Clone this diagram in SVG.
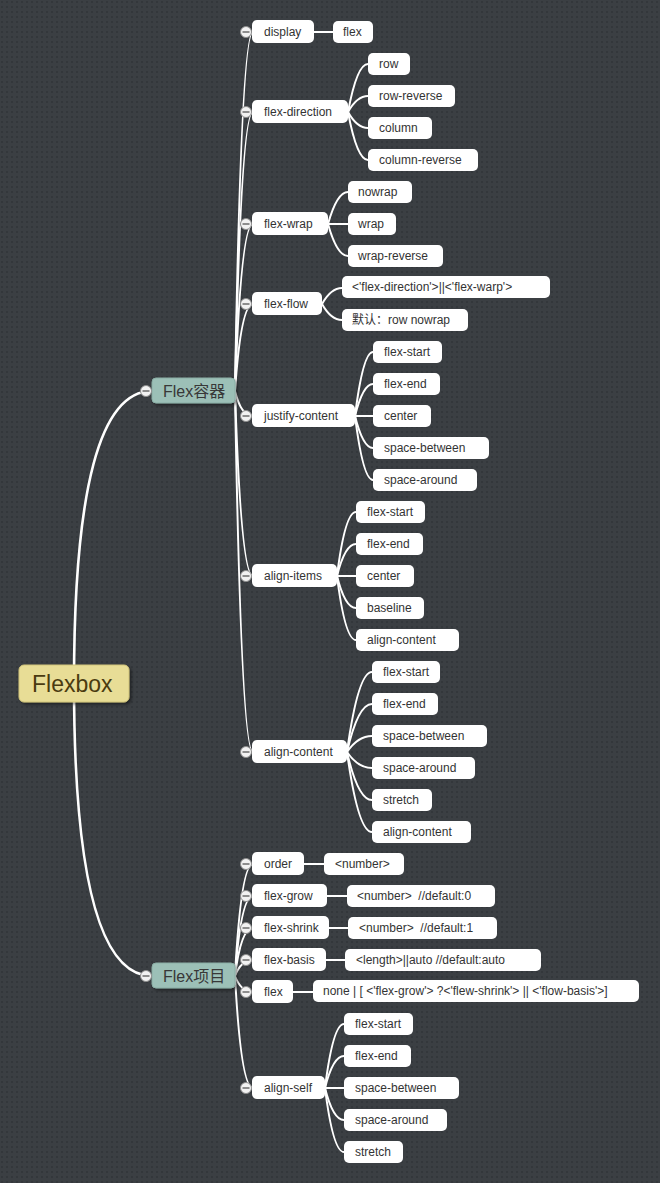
<svg xmlns="http://www.w3.org/2000/svg" width="660" height="1183" viewBox="0 0 660 1183">
  <defs>
    <pattern id="dots" width="5" height="5" patternUnits="userSpaceOnUse">
      <rect width="5" height="5" fill="#3b3f43"/>
      <rect x="1" y="1" width="2" height="2" fill="#33373b"/>
    </pattern>
    <filter id="shadow" x="-20%" y="-30%" width="150%" height="180%">
      <feDropShadow dx="2" dy="2" stdDeviation="1.5" flood-color="#000" flood-opacity="0.45"/>
    </filter>
    <g id="fold">
      <circle r="5.5" fill="#f2f2f2" stroke="#8c8c8c" stroke-width="1"/>
      <line x1="-3.5" y1="0" x2="3.5" y2="0" stroke="#555" stroke-width="1.3"/>
    </g>
  </defs>
  <style>
    .bg { fill: url(#dots); }
    .link { fill: none; stroke: #ffffff; stroke-width: 2; stroke-linecap: round; }
    .link-main { fill: none; stroke: #ffffff; stroke-width: 2.6; stroke-linecap: round; }
    .box { fill: #ffffff; }
    .lbl { font-family: "Liberation Sans", Arial, sans-serif; font-size: 12px; fill: #333333; }
    .root-box { fill: #e8dd96; stroke: #d2c57a; stroke-width: 1; }
    .root-lbl { font-family: "Liberation Sans", Arial, sans-serif; font-size: 23px; fill: #4a3b10; }
    .sub-box { fill: #9cc0b7; stroke: #8aaea5; stroke-width: 1; }
    .sub-lbl { font-family: "Liberation Sans", "Noto Sans CJK SC", Arial, sans-serif; font-size: 16px; fill: #383838; }
    .cjk { font-family: "Liberation Sans", "Noto Sans CJK SC", sans-serif; }
  </style>

  <rect class="bg" x="0" y="0" width="660" height="1183"/>

  <!-- connectors -->
  <g id="connectors">
    <!-- root to main branches -->
    <path class="link-main" d="M74,683 Q74,391 152,391"/>
    <path class="link-main" d="M74,683 Q74,976 152,976"/>

    <!-- Flex容器 to its properties -->
    <path class="link" d="M235,391 Q241,32 253,32"/>
    <path class="link" d="M235,391 Q241,112 253,112"/>
    <path class="link" d="M235,391 Q241,224 253,224"/>
    <path class="link" d="M235,391 Q241,304 253,304"/>
    <path class="link" d="M235,391 Q241,416 253,416"/>
    <path class="link" d="M235,391 Q241,576 253,576"/>
    <path class="link" d="M235,391 Q241,752 253,752"/>

    <!-- Flex项目 to its properties -->
    <path class="link" d="M235,976 Q241,864 253,864"/>
    <path class="link" d="M235,976 Q241,896 253,896"/>
    <path class="link" d="M235,976 Q241,928 253,928"/>
    <path class="link" d="M235,976 Q241,960 253,960"/>
    <path class="link" d="M235,976 Q241,992 253,992"/>
    <path class="link" d="M235,976 Q241,1088 253,1088"/>

    <!-- display -->
    <path class="link" d="M314,32 L333,32"/>
    <!-- flex-direction -->
    <path class="link" d="M348,112 Q357,64 368,64"/>
    <path class="link" d="M348,112 Q357,96 368,96"/>
    <path class="link" d="M348,112 Q357,128 368,128"/>
    <path class="link" d="M348,112 Q357,160 368,160"/>
    <!-- flex-wrap -->
    <path class="link" d="M328,224 Q337,192 348,192"/>
    <path class="link" d="M328,224 L348,224"/>
    <path class="link" d="M328,224 Q337,256 348,256"/>
    <!-- flex-flow -->
    <path class="link" d="M322,304 Q331,288 342,288"/>
    <path class="link" d="M322,304 Q331,320 342,320"/>
    <!-- justify-content -->
    <path class="link" d="M355,416 Q363,352 373,352"/>
    <path class="link" d="M355,416 Q363,384 373,384"/>
    <path class="link" d="M355,416 L373,416"/>
    <path class="link" d="M355,416 Q363,448 373,448"/>
    <path class="link" d="M355,416 Q363,480 373,480"/>
    <!-- align-items -->
    <path class="link" d="M337,576 Q345,512 356,512"/>
    <path class="link" d="M337,576 Q345,544 356,544"/>
    <path class="link" d="M337,576 L356,576"/>
    <path class="link" d="M337,576 Q345,608 356,608"/>
    <path class="link" d="M337,576 Q345,640 356,640"/>
    <!-- align-content -->
    <path class="link" d="M347,752 Q358,672 372,672"/>
    <path class="link" d="M347,752 Q358,704 372,704"/>
    <path class="link" d="M347,752 Q358,736 372,736"/>
    <path class="link" d="M347,752 Q358,768 372,768"/>
    <path class="link" d="M347,752 Q358,800 372,800"/>
    <path class="link" d="M347,752 Q358,832 372,832"/>
    <!-- order / grow / shrink / basis / flex -->
    <path class="link" d="M304,864 L324,864"/>
    <path class="link" d="M327,896 L347,896"/>
    <path class="link" d="M329,928 L348,928"/>
    <path class="link" d="M326,960 L345,960"/>
    <path class="link" d="M293,992 L313,992"/>
    <!-- align-self -->
    <path class="link" d="M325,1088 Q333,1024 344,1024"/>
    <path class="link" d="M325,1088 Q333,1056 344,1056"/>
    <path class="link" d="M325,1088 L344,1088"/>
    <path class="link" d="M325,1088 Q333,1120 344,1120"/>
    <path class="link" d="M325,1088 Q333,1152 344,1152"/>
  </g>

  <!-- central topic -->
  <g id="node-flexbox">
    <rect class="root-box" x="19" y="665" width="110" height="37" rx="5" filter="url(#shadow)"/>
    <text class="root-lbl" x="32" y="692">Flexbox</text>
  </g>

  <!-- main branches -->
  <g id="node-flex-container">
    <rect class="sub-box" x="152" y="378" width="83" height="25" rx="4" filter="url(#shadow)"/>
    <text class="sub-lbl" x="163" y="397">Flex容器</text>
    <use href="#fold" x="146" y="391"/>
  </g>
  <g id="node-flex-item">
    <rect class="sub-box" x="152" y="963" width="83" height="25" rx="4" filter="url(#shadow)"/>
    <text class="sub-lbl" x="163" y="982">Flex项目</text>
    <use href="#fold" x="146" y="976"/>
  </g>

  <!-- container properties -->
  <g id="node-display">
    <rect class="box" x="252" y="20" width="62" height="23" rx="5"/>
    <text class="lbl" x="264" y="36">display</text>
    <use href="#fold" x="246" y="32"/>
  </g>
  <g id="node-display-flex">
    <rect class="box" x="333" y="21" width="40" height="22" rx="5"/>
    <text class="lbl" x="343" y="36">flex</text>
  </g>

  <g id="node-flex-direction">
    <rect class="box" x="252" y="100" width="96" height="23" rx="5"/>
    <text class="lbl" x="264" y="116">flex-direction</text>
    <use href="#fold" x="246" y="112"/>
  </g>
  <g id="node-fd-row">
    <rect class="box" x="368" y="53" width="42" height="22" rx="5"/>
    <text class="lbl" x="379" y="68">row</text>
  </g>
  <g id="node-fd-row-reverse">
    <rect class="box" x="368" y="85" width="87" height="22" rx="5"/>
    <text class="lbl" x="379" y="100">row-reverse</text>
  </g>
  <g id="node-fd-column">
    <rect class="box" x="368" y="117" width="64" height="22" rx="5"/>
    <text class="lbl" x="379" y="132">column</text>
  </g>
  <g id="node-fd-column-reverse">
    <rect class="box" x="368" y="149" width="110" height="22" rx="5"/>
    <text class="lbl" x="379" y="164">column-reverse</text>
  </g>

  <g id="node-flex-wrap">
    <rect class="box" x="252" y="212" width="76" height="23" rx="5"/>
    <text class="lbl" x="264" y="228">flex-wrap</text>
    <use href="#fold" x="246" y="224"/>
  </g>
  <g id="node-fw-nowrap">
    <rect class="box" x="348" y="181" width="64" height="22" rx="5"/>
    <text class="lbl" x="358" y="196">nowrap</text>
  </g>
  <g id="node-fw-wrap">
    <rect class="box" x="348" y="213" width="48" height="22" rx="5"/>
    <text class="lbl" x="358" y="228">wrap</text>
  </g>
  <g id="node-fw-wrap-reverse">
    <rect class="box" x="348" y="245" width="95" height="22" rx="5"/>
    <text class="lbl" x="358" y="260">wrap-reverse</text>
  </g>

  <g id="node-flex-flow">
    <rect class="box" x="252" y="292" width="70" height="23" rx="5"/>
    <text class="lbl" x="264" y="308">flex-flow</text>
    <use href="#fold" x="246" y="304"/>
  </g>
  <g id="node-ff-syntax">
    <rect class="box" x="342" y="276" width="208" height="22" rx="5"/>
    <text class="lbl" x="352" y="291">&lt;'flex-direction'&gt;||&lt;'flex-warp'&gt;</text>
  </g>
  <g id="node-ff-default">
    <rect class="box" x="342" y="309" width="126" height="22" rx="5"/>
    <text class="lbl cjk" x="352" y="324">默认：row nowrap</text>
  </g>

  <g id="node-justify-content">
    <rect class="box" x="252" y="404" width="103" height="23" rx="5"/>
    <text class="lbl" x="264" y="420">justify-content</text>
    <use href="#fold" x="246" y="416"/>
  </g>
  <g id="node-jc-flex-start">
    <rect class="box" x="373" y="341" width="69" height="22" rx="5"/>
    <text class="lbl" x="384" y="356">flex-start</text>
  </g>
  <g id="node-jc-flex-end">
    <rect class="box" x="373" y="373" width="67" height="22" rx="5"/>
    <text class="lbl" x="384" y="388">flex-end</text>
  </g>
  <g id="node-jc-center">
    <rect class="box" x="373" y="405" width="58" height="22" rx="5"/>
    <text class="lbl" x="384" y="420">center</text>
  </g>
  <g id="node-jc-space-between">
    <rect class="box" x="373" y="437" width="116" height="22" rx="5"/>
    <text class="lbl" x="384" y="452">space-between</text>
  </g>
  <g id="node-jc-space-around">
    <rect class="box" x="373" y="469" width="104" height="22" rx="5"/>
    <text class="lbl" x="384" y="484">space-around</text>
  </g>

  <g id="node-align-items">
    <rect class="box" x="252" y="564" width="85" height="23" rx="5"/>
    <text class="lbl" x="264" y="580">align-items</text>
    <use href="#fold" x="246" y="576"/>
  </g>
  <g id="node-ai-flex-start">
    <rect class="box" x="356" y="501" width="69" height="22" rx="5"/>
    <text class="lbl" x="367" y="516">flex-start</text>
  </g>
  <g id="node-ai-flex-end">
    <rect class="box" x="356" y="533" width="67" height="22" rx="5"/>
    <text class="lbl" x="367" y="548">flex-end</text>
  </g>
  <g id="node-ai-center">
    <rect class="box" x="356" y="565" width="58" height="22" rx="5"/>
    <text class="lbl" x="367" y="580">center</text>
  </g>
  <g id="node-ai-baseline">
    <rect class="box" x="356" y="597" width="68" height="22" rx="5"/>
    <text class="lbl" x="367" y="612">baseline</text>
  </g>
  <g id="node-ai-align-content">
    <rect class="box" x="356" y="629" width="103" height="22" rx="5"/>
    <text class="lbl" x="367" y="644">align-content</text>
  </g>

  <g id="node-align-content">
    <rect class="box" x="252" y="740" width="95" height="23" rx="5"/>
    <text class="lbl" x="264" y="756">align-content</text>
    <use href="#fold" x="246" y="752"/>
  </g>
  <g id="node-ac-flex-start">
    <rect class="box" x="372" y="661" width="68" height="22" rx="5"/>
    <text class="lbl" x="383" y="676">flex-start</text>
  </g>
  <g id="node-ac-flex-end">
    <rect class="box" x="372" y="693" width="66" height="22" rx="5"/>
    <text class="lbl" x="383" y="708">flex-end</text>
  </g>
  <g id="node-ac-space-between">
    <rect class="box" x="372" y="725" width="115" height="22" rx="5"/>
    <text class="lbl" x="383" y="740">space-between</text>
  </g>
  <g id="node-ac-space-around">
    <rect class="box" x="372" y="757" width="103" height="22" rx="5"/>
    <text class="lbl" x="383" y="772">space-around</text>
  </g>
  <g id="node-ac-stretch">
    <rect class="box" x="372" y="789" width="60" height="22" rx="5"/>
    <text class="lbl" x="383" y="804">stretch</text>
  </g>
  <g id="node-ac-align-content">
    <rect class="box" x="372" y="821" width="99" height="22" rx="5"/>
    <text class="lbl" x="383" y="836">align-content</text>
  </g>

  <!-- item properties -->
  <g id="node-order">
    <rect class="box" x="252" y="852" width="52" height="23" rx="5"/>
    <text class="lbl" x="264" y="868">order</text>
    <use href="#fold" x="246" y="864"/>
  </g>
  <g id="node-order-value">
    <rect class="box" x="324" y="853" width="80" height="22" rx="5"/>
    <text class="lbl" x="335" y="868">&lt;number&gt;</text>
  </g>

  <g id="node-flex-grow">
    <rect class="box" x="252" y="884" width="75" height="23" rx="5"/>
    <text class="lbl" x="264" y="900">flex-grow</text>
    <use href="#fold" x="246" y="896"/>
  </g>
  <g id="node-grow-value">
    <rect class="box" x="347" y="885" width="148" height="22" rx="5"/>
    <text class="lbl" x="357" y="900" xml:space="preserve">&lt;number&gt;  //default:0</text>
  </g>

  <g id="node-flex-shrink">
    <rect class="box" x="252" y="916" width="77" height="23" rx="5"/>
    <text class="lbl" x="264" y="932">flex-shrink</text>
    <use href="#fold" x="246" y="928"/>
  </g>
  <g id="node-shrink-value">
    <rect class="box" x="348" y="917" width="149" height="22" rx="5"/>
    <text class="lbl" x="359" y="932" xml:space="preserve">&lt;number&gt;  //default:1</text>
  </g>

  <g id="node-flex-basis">
    <rect class="box" x="252" y="948" width="74" height="23" rx="5"/>
    <text class="lbl" x="264" y="964">flex-basis</text>
    <use href="#fold" x="246" y="960"/>
  </g>
  <g id="node-basis-value">
    <rect class="box" x="345" y="949" width="196" height="22" rx="5"/>
    <text class="lbl" x="356" y="964">&lt;length&gt;||auto //default:auto</text>
  </g>

  <g id="node-flex">
    <rect class="box" x="252" y="980" width="41" height="23" rx="5"/>
    <text class="lbl" x="264" y="996">flex</text>
    <use href="#fold" x="246" y="992"/>
  </g>
  <g id="node-flex-value">
    <rect class="box" x="313" y="980" width="326" height="22" rx="5"/>
    <text class="lbl" x="323" y="995">none | [ &lt;'flex-grow'&gt; ?&lt;'flew-shrink'&gt; || &lt;'flow-basis'&gt;]</text>
  </g>

  <g id="node-align-self">
    <rect class="box" x="252" y="1076" width="73" height="23" rx="5"/>
    <text class="lbl" x="264" y="1092">align-self</text>
    <use href="#fold" x="246" y="1088"/>
  </g>
  <g id="node-as-flex-start">
    <rect class="box" x="344" y="1013" width="69" height="22" rx="5"/>
    <text class="lbl" x="355" y="1028">flex-start</text>
  </g>
  <g id="node-as-flex-end">
    <rect class="box" x="344" y="1045" width="67" height="22" rx="5"/>
    <text class="lbl" x="355" y="1060">flex-end</text>
  </g>
  <g id="node-as-space-between">
    <rect class="box" x="344" y="1077" width="115" height="22" rx="5"/>
    <text class="lbl" x="355" y="1092">space-between</text>
  </g>
  <g id="node-as-space-around">
    <rect class="box" x="344" y="1109" width="103" height="22" rx="5"/>
    <text class="lbl" x="355" y="1124">space-around</text>
  </g>
  <g id="node-as-stretch">
    <rect class="box" x="344" y="1141" width="59" height="22" rx="5"/>
    <text class="lbl" x="355" y="1156">stretch</text>
  </g>
</svg>
